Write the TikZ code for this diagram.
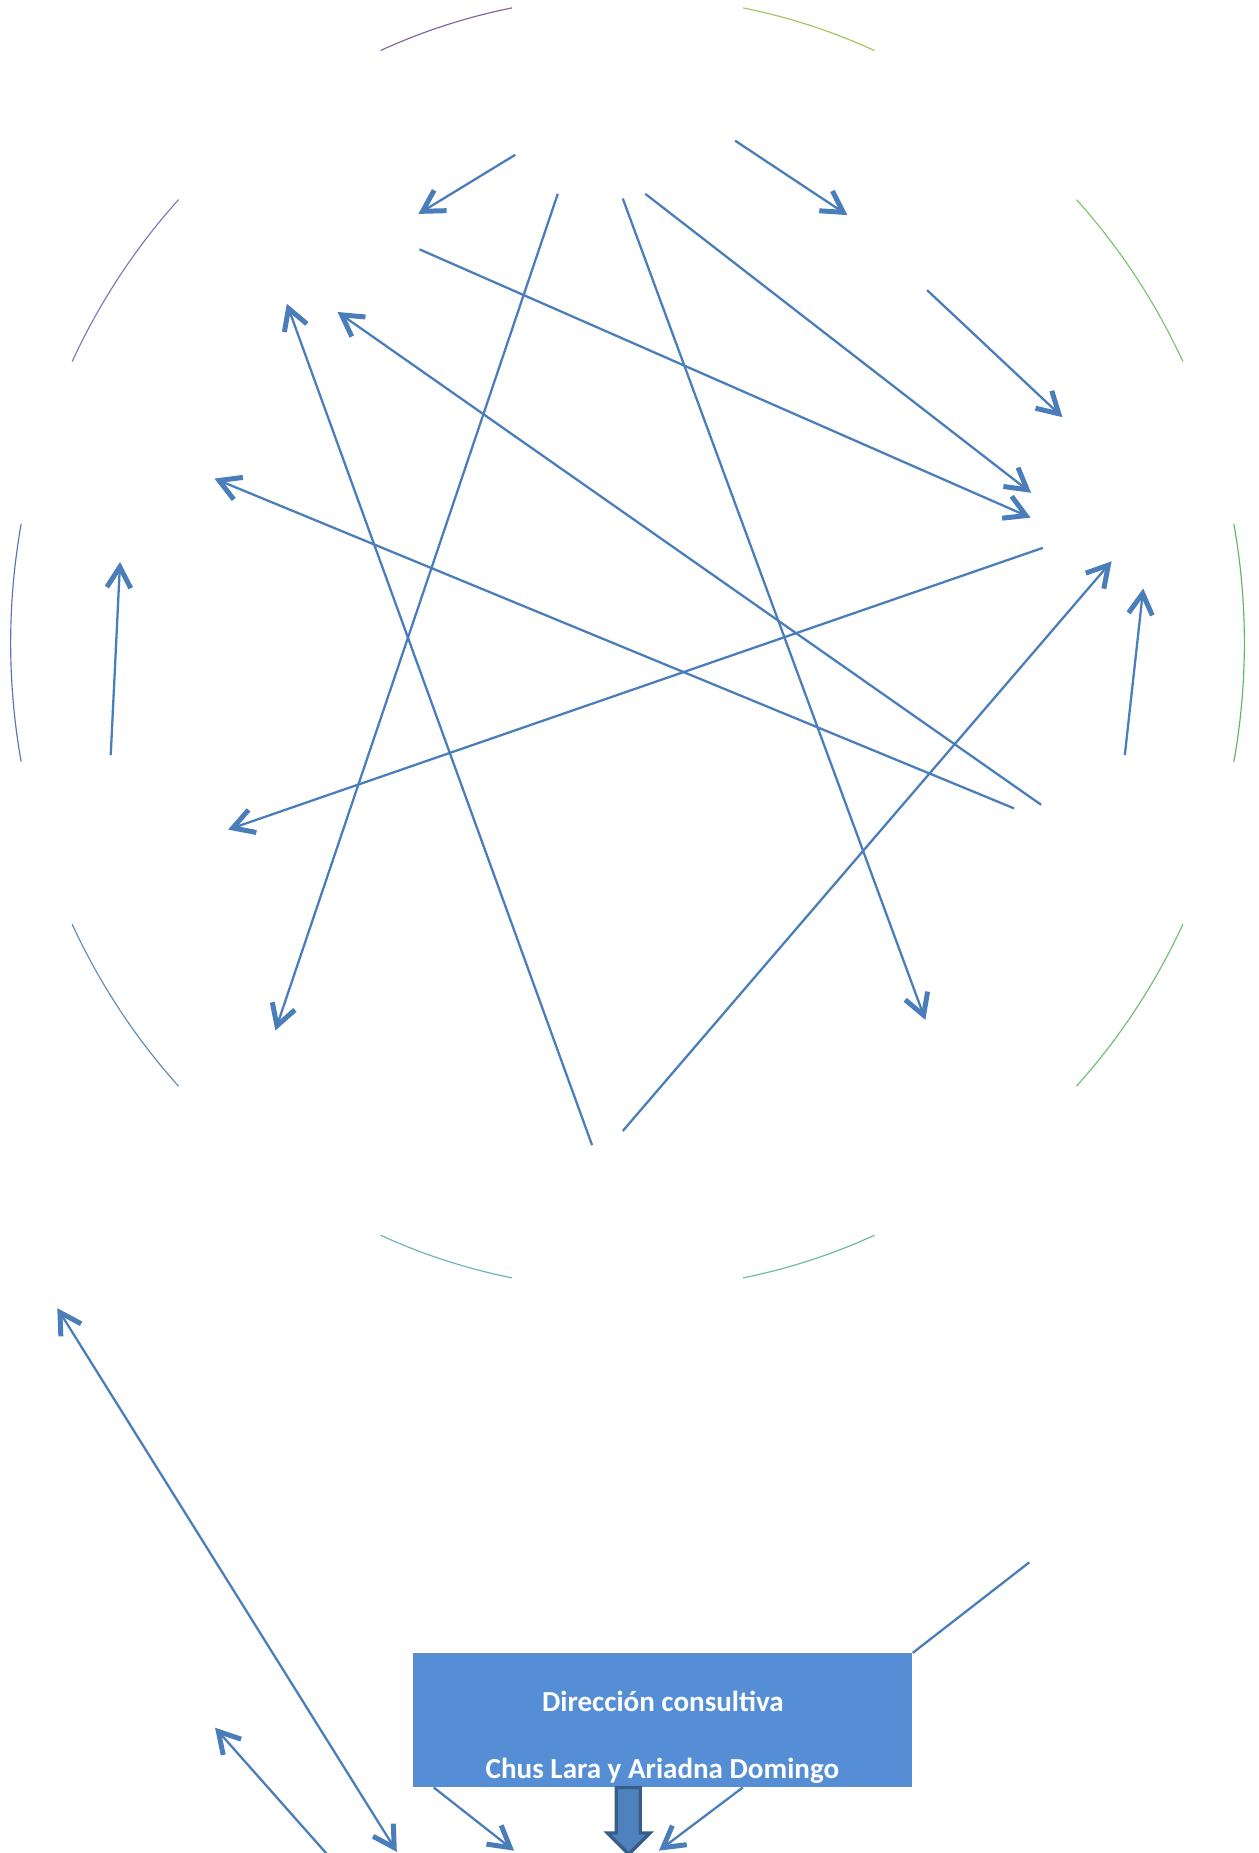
\documentclass[tikz,border=0pt]{standalone}
\usepackage{fontspec}
\setmainfont{Carlito}
\usetikzlibrary{arrows.meta}
\definecolor{ln}{HTML}{4A7EBB}
\definecolor{boxblue}{HTML}{558ED5}
\definecolor{barfill}{HTML}{4F81BD}
\definecolor{bardraw}{HTML}{385D8A}
\definecolor{arcA}{HTML}{8064A2}
\definecolor{arcB}{HTML}{7A78BE}
\definecolor{arcC}{HTML}{5A72B8}
\definecolor{arcD}{HTML}{5E8CB5}
\definecolor{arcE}{HTML}{6BB3B8}
\definecolor{arcF}{HTML}{66BB99}
\definecolor{arcG}{HTML}{6CC073}
\definecolor{arcH}{HTML}{5CB85C}
\definecolor{arcI}{HTML}{7AC46A}
\definecolor{arcJ}{HTML}{A4C45C}
\tikzset{
  barb/.tip={Straight Barb[length=10pt,width=11.5pt,line width=2.4pt,line cap=butt,line join=miter]},
  conn/.style={draw=ln, line width=1.1pt},
  oarrow/.style={conn, -barb},
  darrow/.style={conn, barb-barb},
  ringarc/.style={line width=0.55pt},
  dbox/.style={fill=boxblue, draw=none, minimum width=8.45cm, minimum height=2.27cm, inner sep=0pt},
  dtext/.style={text=white, font=\fontsize{14}{16}\selectfont\bfseries, inner sep=0pt, anchor=base}
}
\begin{document}
\begin{tikzpicture}[x=0.02cm,y=-0.02cm]
\clip (0,0) rectangle (1065,1568);
\fill[white] (0,0) rectangle (1065,1568);

% ring arcs (ellipse centre (531,544), radii 522 x 547)
\foreach \a/\b/\c in {100.8/113.6/arcA, 136.7/154.2/arcB, 169.4/190.6/arcC, 205.8/223.3/arcD, 246.4/259.2/arcE, 280.8/293.6/arcF, 316.7/334.2/arcG, 349.4/370.6/arcH, 25.8/43.3/arcI, 66.4/79.2/arcJ}
  \draw[ringarc, draw=\c] plot[domain=\a:\b, samples=40, smooth] ({531+522*cos(\x)},{544-547*sin(\x)});

% connector end points
\coordinate (s1) at (436,131);   \coordinate (e1) at (354,181);
\coordinate (s2) at (622,119);   \coordinate (e2) at (717,182);
\coordinate (s3) at (784.5,245.5); \coordinate (e3) at (899,353);
\coordinate (s4) at (546,164);   \coordinate (e4) at (872.5,417);
\coordinate (s5) at (355,211);   \coordinate (e5) at (872,438);
\coordinate (s6) at (472,164);   \coordinate (e6) at (233,872);
\coordinate (s7) at (527,168);   \coordinate (e7) at (783,863);
\coordinate (s8) at (881,681);   \coordinate (e8) at (285.6,264);
\coordinate (s9) at (501,969);   \coordinate (e9) at (242.7,257);
\coordinate (s10) at (858,684);  \coordinate (e10) at (181.5,405);
\coordinate (s11) at (882.4,463.6); \coordinate (e11) at (193,702);
\coordinate (s12) at (527,957);  \coordinate (e12) at (940.6,475);
\coordinate (s13) at (93.7,639); \coordinate (e13) at (101.6,475.5);
\coordinate (s14) at (951.8,639); \coordinate (e14) at (967.4,498);
\coordinate (s15) at (48.5,1107); \coordinate (e15) at (335.8,1567);
\coordinate (s16) at (279.4,1572); \coordinate (e16) at (182,1462);
\coordinate (s17) at (367,1512.5); \coordinate (e17) at (435,1566);
\coordinate (s18) at (628.6,1512.5); \coordinate (e18) at (557.6,1566);
\coordinate (e19) at (871,1322);

\foreach \i in {1,...,14,16,17,18} \draw[oarrow] (s\i) -- (e\i);
\draw[darrow] (s15) -- (e15);

% box
\node[dbox] (dc) at (560.75,1455.75) {};
\node[dtext] (t1) at (561,1448.3) {Dirección consultiva};
\node[dtext] (t2) at (560.5,1504.7) {Chus Lara y Ariadna Domingo};
\draw[conn] (dc.north east) -- (e19);

% block arrow down
\draw[fill=barfill, draw=bardraw, line width=1.6pt, line join=miter]
  (521.5,1512.5) -- (541.8,1512.5) -- (541.8,1551) -- (550,1551) -- (532,1569)
  -- (514,1551) -- (521.5,1551) -- cycle;
\end{tikzpicture}
\end{document}
